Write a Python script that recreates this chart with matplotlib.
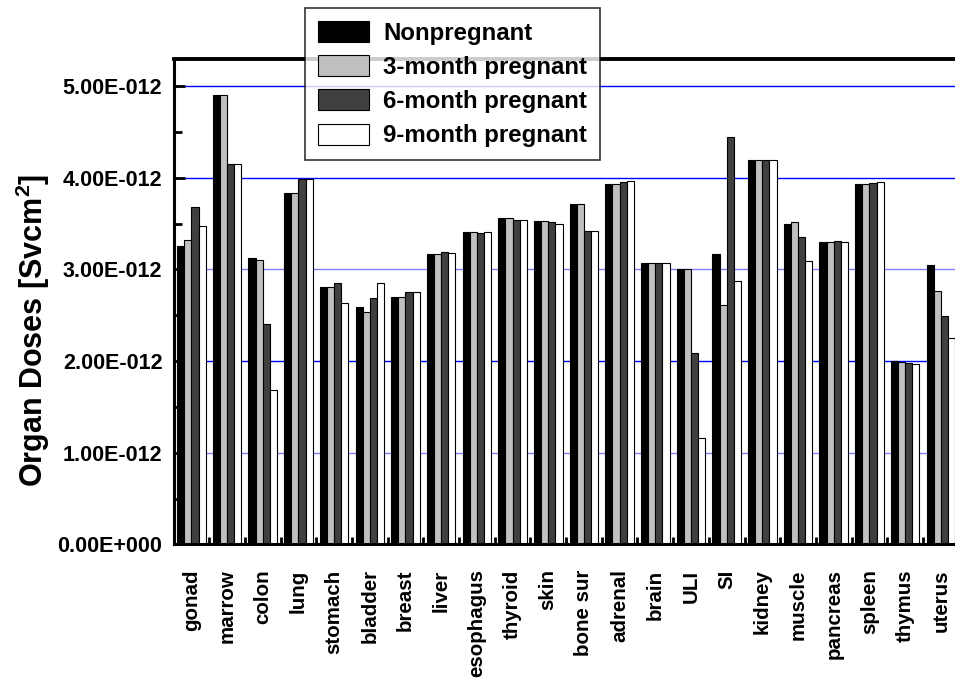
import matplotlib
matplotlib.use("Agg")
import matplotlib.pyplot as plt
import numpy as np
from matplotlib.ticker import FuncFormatter, MultipleLocator

plt.rcParams['font.family'] = ['Liberation Sans', 'DejaVu Sans']
plt.rcParams['font.weight'] = 'bold'
plt.rcParams['mathtext.fontset'] = 'custom'
plt.rcParams['mathtext.rm'] = 'Liberation Sans:bold'
plt.rcParams['mathtext.bf'] = 'Liberation Sans:bold'
plt.rcParams['mathtext.it'] = 'Liberation Sans:bold'

organs = ["gonad", "marrow", "colon", "lung", "stomach", "bladder", "breast", "liver",
          "esophagus", "thyroid", "skin", "bone sur", "adrenal", "brain", "ULI", "SI",
          "kidney", "muscle", "pancreas", "spleen", "thymus", "uterus"]

series_names = ["Nonpregnant", "3-month pregnant", "6-month pregnant", "9-month pregnant"]

nonpregnant = [3.26e-12, 4.90e-12, 3.12e-12, 3.83e-12, 2.81e-12, 2.59e-12, 2.70e-12, 3.17e-12,
               3.41e-12, 3.56e-12, 3.53e-12, 3.71e-12, 3.93e-12, 3.075e-12, 3.01e-12, 3.17e-12,
               4.19e-12, 3.50e-12, 3.30e-12, 3.93e-12, 1.997e-12, 3.05e-12]
month3 = [3.32e-12, 4.90e-12, 3.10e-12, 3.83e-12, 2.81e-12, 2.54e-12, 2.70e-12, 3.17e-12,
          3.41e-12, 3.56e-12, 3.53e-12, 3.71e-12, 3.93e-12, 3.075e-12, 3.00e-12, 2.61e-12,
          4.19e-12, 3.515e-12, 3.295e-12, 3.93e-12, 1.99e-12, 2.76e-12]
month6 = [3.685e-12, 4.15e-12, 2.41e-12, 3.99e-12, 2.85e-12, 2.69e-12, 2.75e-12, 3.19e-12,
          3.40e-12, 3.54e-12, 3.515e-12, 3.42e-12, 3.95e-12, 3.075e-12, 2.09e-12, 4.45e-12,
          4.19e-12, 3.36e-12, 3.31e-12, 3.94e-12, 1.98e-12, 2.49e-12]
month9 = [3.48e-12, 4.15e-12, 1.69e-12, 3.99e-12, 2.63e-12, 2.85e-12, 2.75e-12, 3.18e-12,
          3.41e-12, 3.545e-12, 3.50e-12, 3.42e-12, 3.97e-12, 3.075e-12, 1.16e-12, 2.875e-12,
          4.20e-12, 3.09e-12, 3.305e-12, 3.96e-12, 1.97e-12, 2.25e-12]

series = [nonpregnant, month3, month6, month9]
colors = ["#000000", "#c0c0c0", "#404040", "#ffffff"]

fig = plt.figure(figsize=(9.55, 6.86), dpi=100)
ax = fig.add_axes([0.1817, 0.2064, 1.0038 - 0.1817, 0.9144 - 0.2064])

x = np.arange(len(organs))
w = 0.2
offsets = [-1.5 * w, -0.5 * w, 0.5 * w, 1.5 * w]

# grid lines
grid_cols = {1e-12: "#8080ff", 2e-12: "#0000ff", 3e-12: "#8080ff", 4e-12: "#0000ff", 5e-12: "#0000ff"}
for yv, c in grid_cols.items():
    ax.axhline(yv, color=c, lw=1.0, zorder=0.5)

handles = []
for s, c, off, name in zip(series, colors, offsets, series_names):
    b = ax.bar(x + off, s, width=w, color=c, edgecolor="#000000", linewidth=0.8,
               label=name, zorder=2)
    handles.append(b)

ax.set_xlim(-0.5, len(organs) - 0.5)
ax.set_ylim(0, 5.3e-12)

def fmt(v, pos):
    if abs(v) < 1e-20:
        return "0.00E+000"
    e = int(np.floor(np.log10(abs(v)) + 1e-9))
    m = v / 10 ** e
    sign = "+" if e >= 0 else "-"
    return f"{m:.2f}E{sign}{abs(e):03d}"

ax.yaxis.set_major_locator(MultipleLocator(1e-12))
ax.yaxis.set_minor_locator(MultipleLocator(0.5e-12))
ax.yaxis.set_major_formatter(FuncFormatter(fmt))

ax.set_xticks(x)
ax.set_xticklabels(organs, rotation=90, fontsize=14.8, fontweight='bold', va='top', ha='center')
ax.set_xticks(np.arange(-0.5, len(organs), 1.0), minor=True)

ax.tick_params(axis='y', which='major', direction='in', length=8, width=2, labelsize=15.5, pad=8)
ax.tick_params(axis='y', which='minor', direction='in', length=5.5, width=2)
ax.tick_params(axis='x', which='major', direction='in', length=8, width=2, pad=18)
ax.tick_params(axis='x', which='minor', direction='in', length=5, width=2)
for lab in ax.get_yticklabels():
    lab.set_fontweight('bold')

for sp in ['left', 'bottom']:
    ax.spines[sp].set_linewidth(2.2)
ax.spines['top'].set_linewidth(2.8)
ax.spines['right'].set_visible(False)

ax.set_ylabel("Organ Doses [Svcm$^{2}$]", fontsize=22, fontweight='bold')
ax.yaxis.set_label_coords(-0.155, 0.44)

leg = ax.legend(handles=handles, loc='upper left', bbox_to_anchor=(305 / 955, 1 - 8 / 686),
                bbox_transform=fig.transFigure, fontsize=17.3, frameon=True, fancybox=False,
                borderpad=0.55, handlelength=2.1, handleheight=0.97, handletextpad=0.6,
                labelspacing=0.43, borderaxespad=0)
leg.get_frame().set_edgecolor("#000000")
leg.get_frame().set_linewidth(1.2)
for t in leg.get_texts():
    t.set_fontweight('bold')
leg.set_zorder(10)

fig.savefig("out.png", dpi=100)
